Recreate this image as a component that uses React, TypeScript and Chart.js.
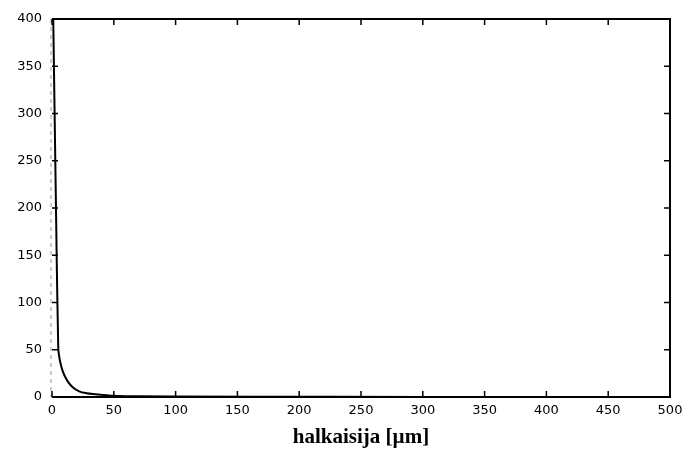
import React, { useEffect, useRef } from "react";
import { Chart, registerables } from "chart.js";

Chart.register(...registerables);

const xValues = [1, 2, 3, 4, 5, 5.6, 6.5, 8, 10, 13, 17, 22, 28, 35, 50, 70, 100, 200, 300, 500];
const yValues = [400, 310, 220, 130, 55, 45, 38, 30, 23, 16, 10, 6, 4, 3, 1.3, 0.7, 0.4, 0.2, 0.1, 0.1];
const xTicks = [0, 50, 100, 150, 200, 250, 300, 350, 400, 450, 500];
const yTicks = [0, 50, 100, 150, 200, 250, 300, 350, 400];
const xTitle = "halkaisija [\u00b5m]";

const framePlugin = {
  id: "frame",
  afterDraw(chart: any) {
    const { ctx, chartArea: a, scales } = chart;
    const xs = scales.x;
    const ys = scales.y;
    ctx.save();
    ctx.strokeStyle = "#000";
    ctx.lineWidth = 2;
    ctx.beginPath();
    ctx.moveTo(a.left, a.top);
    ctx.lineTo(a.right, a.top);
    ctx.lineTo(a.right, a.bottom);
    ctx.lineTo(a.left, a.bottom);
    ctx.stroke();
    ctx.strokeStyle = "#999";
    ctx.lineWidth = 1;
    ctx.setLineDash([4, 4]);
    ctx.beginPath();
    ctx.moveTo(a.left - 1, a.top);
    ctx.lineTo(a.left - 1, a.bottom);
    ctx.stroke();
    ctx.setLineDash([]);
    ctx.strokeStyle = "#000";
    ctx.lineWidth = 1.5;
    const t = 6;
    ctx.beginPath();
    for (const v of xTicks) {
      const px = xs.getPixelForValue(v);
      ctx.moveTo(px, a.bottom);
      ctx.lineTo(px, a.bottom - t);
      ctx.moveTo(px, a.top);
      ctx.lineTo(px, a.top + t);
    }
    for (const v of yTicks) {
      const py = ys.getPixelForValue(v);
      ctx.moveTo(a.left, py);
      ctx.lineTo(a.left + t, py);
      ctx.moveTo(a.right, py);
      ctx.lineTo(a.right - t, py);
    }
    ctx.stroke();
    ctx.restore();
  },
};

export default function App() {
  const ref = useRef<HTMLCanvasElement>(null);
  useEffect(() => {
    document.body.style.margin = "0";
    const chart = new Chart(ref.current!, {
      type: "line",
      data: {
        datasets: [
          {
            data: xValues.map((x, i) => ({ x, y: yValues[i] })),
            borderColor: "#000",
            borderWidth: 2,
            pointRadius: 0,
            fill: false,
            cubicInterpolationMode: "monotone",
          },
        ],
      },
      options: {
        animation: false,
        responsive: false,
        layout: { padding: { top: 19, right: 13, left: 0, bottom: 0 } },
        plugins: { legend: { display: false }, tooltip: { enabled: false } },
        scales: {
          x: {
            type: "linear",
            min: 0,
            max: 500,
            afterBuildTicks: (s: any) => {
              s.ticks = xTicks.map((v) => ({ value: v }));
            },
            afterFit: (s: any) => {
              s.height = 53;
              s.paddingRight = 0;
              s.paddingLeft = 0;
            },
            grid: { display: false, drawTicks: false },
            border: { display: false },
            ticks: {
              color: "#000",
              font: { family: "DejaVu Sans", size: 13 },
              padding: 6,
              maxRotation: 0,
              autoSkip: false,
            },
            title: {
              display: true,
              text: xTitle,
              color: "#000",
              font: { family: "Liberation Serif", size: 21, weight: "bold" },
              padding: { top: 4, bottom: 0 },
            },
          },
          y: {
            type: "linear",
            min: 0,
            max: 400,
            afterBuildTicks: (s: any) => {
              s.ticks = yTicks.map((v) => ({ value: v }));
            },
            afterFit: (s: any) => {
              s.width = 52;
              s.paddingTop = 0;
              s.paddingBottom = 0;
            },
            grid: { display: false, drawTicks: false },
            border: { display: false },
            ticks: {
              color: "#000",
              font: { family: "DejaVu Sans", size: 13 },
              padding: 10,
            },
          },
        },
      },
      plugins: [framePlugin],
    } as any);
    return () => chart.destroy();
  }, []);
  return (
    <div style={{ width: 683, height: 450, background: "#fff" }}>
      <canvas ref={ref} width={683} height={450} style={{ display: "block" }} />
    </div>
  );
}
